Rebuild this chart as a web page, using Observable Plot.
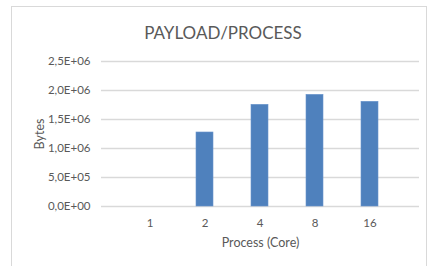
<!DOCTYPE html>
<html>
<head>
<meta charset="utf-8">
<script src="https://cdn.jsdelivr.net/npm/d3@7"></script>
<script src="https://cdn.jsdelivr.net/npm/@observablehq/plot@0.6"></script>
<style>
  html, body { margin: 0; padding: 0; background: #fff; }
  body { width: 428px; height: 266px; position: relative; overflow: hidden; font-family: Lato, "Open Sans", sans-serif; }
  #frame { position: absolute; left: 11px; top: 6px; width: 416px; height: 262px; border: 1px solid #d9d9d9; box-sizing: border-box; }
  #title { position: absolute; left: 0; top: 22px; width: 446px; text-align: center; font-size: 17px; color: #595959; line-height: 22px; }
  #chart { position: absolute; left: 0; top: 46px; }
</style>
</head>
<body>
<div id="frame"></div>
<div id="title">PAYLOAD/PROCESS</div>
<div id="chart"></div>
<script>
const categories = ["1", "2", "4", "8", "16"];
const values = [0, 1.276e6, 1.753e6, 1.925e6, 1.805e6];
const yTicks = [0, 5e5, 1e6, 1.5e6, 2e6, 2.5e6];
const yLabel = "Bytes";
const xLabel = "Process (Core)";

const data = categories.map((c, i) => ({cat: c, value: values[i]}));

function sci(d) {
  if (d === 0) return "0,0E+00";
  const e = Math.floor(Math.log10(d) + 1e-9);
  const m = d / Math.pow(10, e);
  return m.toFixed(1).replace(".", ",") + "E+" + String(e).padStart(2, "0");
}

const chart = Plot.plot({
  width: 428,
  height: 220,
  marginLeft: 101,
  marginRight: 9,
  marginTop: 15,
  marginBottom: 60,
  style: {fontFamily: "Lato, 'Open Sans', sans-serif", fontSize: "11.5px", color: "#595959", background: "transparent", overflow: "visible"},
  x: {domain: categories, padding: 0.69, label: null},
  y: {domain: [0, 2.5e6], label: null},
  marks: [
    Plot.ruleY(yTicks, {stroke: "#d9d9d9", strokeWidth: 1.3}),
    Plot.barY(data, {x: "cat", y: "value", fill: "#4f81bd", stroke: "#6a95cc", strokeWidth: 0.6}),
    Plot.axisY(yTicks, {tickSize: 0, tickPadding: 11, tickFormat: sci, fill: "#595959", fontSize: 11.5}),
    Plot.axisX({tickSize: 0, tickPadding: 12, fill: "#595959", fontSize: 11.5}),
    Plot.text([yLabel], {frameAnchor: "left", dx: -62, rotate: -90, textAnchor: "middle", lineAnchor: "middle", fill: "#595959", fontSize: 12.5}),
    Plot.text([xLabel], {frameAnchor: "bottom", dy: 36, textAnchor: "middle", lineAnchor: "middle", fill: "#595959", fontSize: 12.5})
  ]
});
document.getElementById("chart").appendChild(chart);
</script>
</body>
</html>
